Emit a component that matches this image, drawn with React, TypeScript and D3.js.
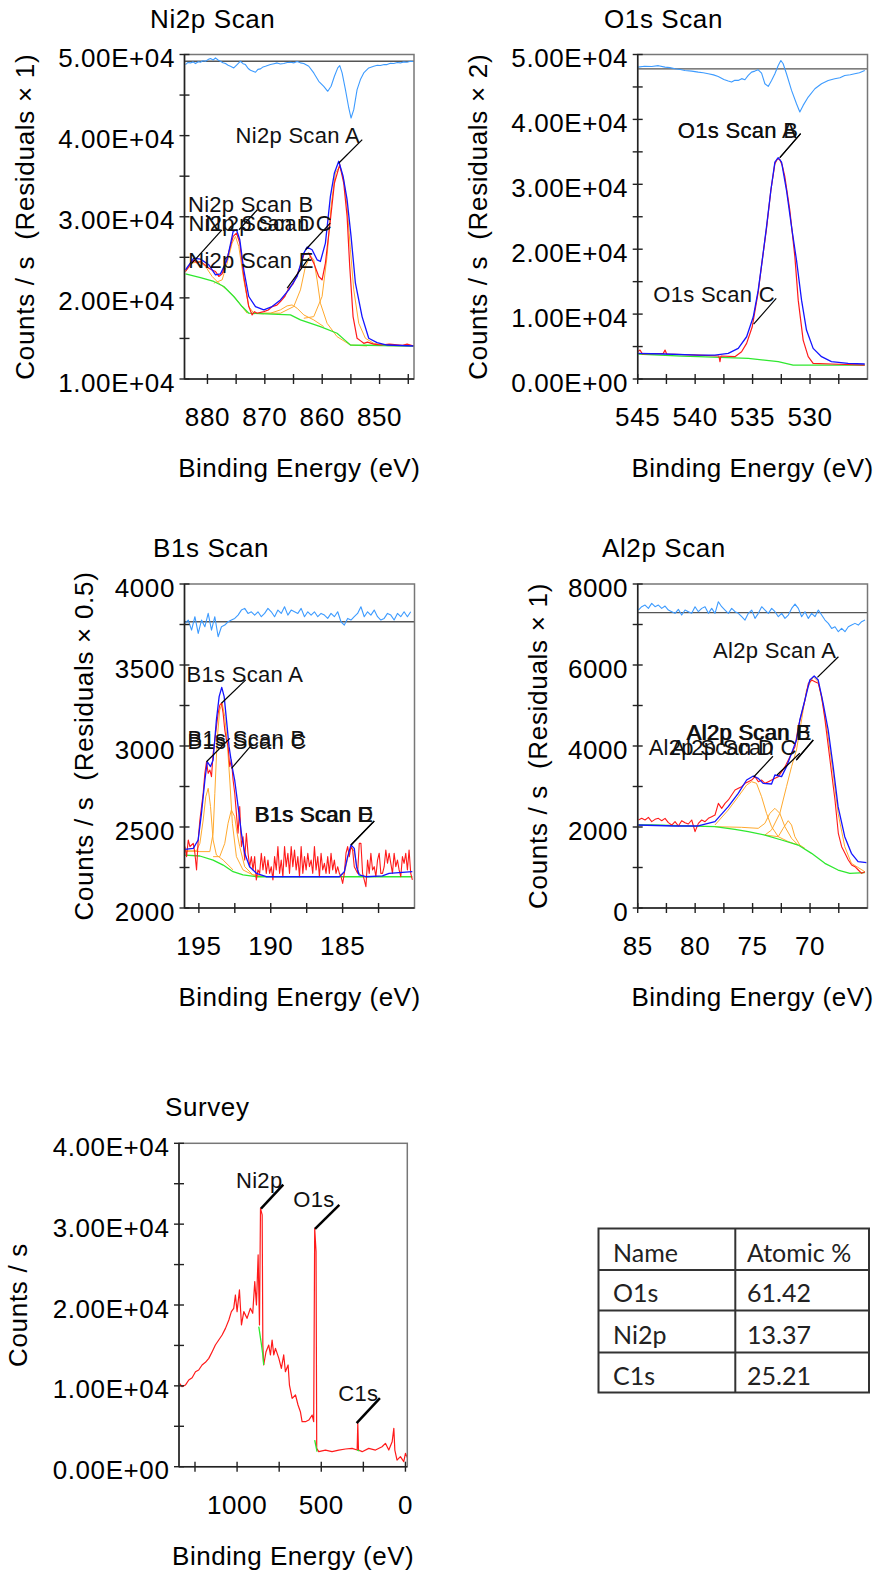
import React from 'react';
import * as d3 from 'd3';

type Pt = [number, number];

// ---------- Ni2p Scan (binding energy eV, counts/s) ----------
const ni2pEnvelope: Pt[] = [[883.83,23460],[882.38,24900],[881.22,24780],[879.76,24080],[878.60,22840],[877.73,22960],[876.57,24690],[875.52,28190],[874.94,28400],[874.36,27160],[873.67,23460],[872.80,20170],[871.63,18930],[870.18,18520],[868.73,18930],[867.28,19750],[865.83,20990],[864.37,22640],[863.21,25520],[862.63,26260],[861.76,25930],[860.89,24690],[860.31,24490],[859.44,26750],[858.57,32520],[857.87,35400],[857.12,36840],[856.36,34990],[855.66,32100],[854.97,27580],[854.21,21810],[853.05,17690],[851.89,15020],[850.44,14480],[848.70,14190],[844.05,14070]];
const ni2pData: Pt[] = [[883.83,23250],[883.2,23900],[882.38,24690],[881.8,24300],[881.22,24490],[880.5,24100],[879.76,23660],[879.1,23400],[878.60,23250],[878.02,22640],[877.44,22960],[876.57,24900],[875.52,27580],[874.94,27990],[874.36,26750],[873.67,22640],[872.80,18930],[872.21,17900],[871.8,18300],[871.34,18110],[870.18,18310],[869.4,18500],[868.73,18930],[867.9,19100],[867.28,19550],[866.5,20200],[865.83,21190],[865.1,21700],[864.37,22840],[863.8,23900],[863.21,25310],[862.34,25520],[861.47,24280],[860.60,22640],[860.02,22220],[859.44,24280],[858.57,29630],[857.87,34160],[856.94,36430],[856.25,34160],[855.66,30050],[855.20,23870],[854.62,17690],[853.92,15020],[853.3,14700],[852.76,14400],[852.1,14550],[851.02,14300],[849.86,14190],[848.3,14300],[846.00,14150],[845.2,14300],[844.05,14070]];
const ni2pBackground: Pt[] = [[883.83,22960],[881.22,22510],[878.89,22020],[877.15,21400],[875.41,20170],[873.96,18930],[872.80,18110],[865.54,17900],[863.79,17280],[860.31,16460],[857.41,15640],[855.95,14730],[855.08,14190],[844.05,14070]];
const ni2pCompA: Pt[] = [[863.21,17490],[861.47,17690],[860.02,20170],[859.15,25110],[858.45,31280],[857.70,35400],[856.94,36220],[856.25,34570],[855.66,31280],[855.08,25930],[854.50,20990],[853.63,16870],[852.47,15020],[851.02,14400],[848.70,14110],[844.05,14070]];
const ni2pCompB: Pt[] = [[883.83,23250],[882.67,24280],[881.51,24490],[880.34,23870],[879.18,22640],[878.02,21810],[876.57,20990],[875.12,19960],[873.09,18110]];
const ni2pCompC: Pt[] = [[870.18,18110],[867.28,18110],[864.96,18930],[863.79,20990],[862.92,23870],[862.05,25190],[861.47,24690],[860.89,22220],[860.31,19340],[859.15,16870],[857.41,15220],[855.08,14190],[852.18,14070]];
const ni2pCompD: Pt[] = [[878.89,21810],[877.44,22220],[876.57,24280],[875.70,26750],[875.12,27580],[874.54,26340],[873.67,22220],[872.80,18930],[871.92,18110],[870.18,18030]];
const ni2pCompE: Pt[] = [[871.34,18110],[869.02,18110],[867.28,18520],[866.12,19010],[865.25,19130],[864.37,18720],[863.21,17900],[861.47,17280],[859.73,16460]];
const ni2pResidual: Pt[] = [[883.83,-412],[883.4,-150],[882.96,-206],[882.5,-80],[882.09,-288],[881.6,-60],[881.22,-124],[880.8,60],[880.34,0],[879.9,200],[879.47,329],[879.0,150],[878.60,412],[878.1,120],[877.73,0],[877.3,-180],[876.86,-288],[876.4,-500],[875.99,-618],[875.41,-823],[874.83,-412],[874.25,0],[873.8,-300],[873.38,-412],[872.9,-900],[872.50,-1112],[871.63,-1359],[871.2,-1000],[870.76,-947],[870.3,-700],[869.89,-618],[869.02,-412],[868.4,-300],[867.86,-206],[867.3,-350],[866.70,-288],[866.1,-150],[865.54,-124],[864.9,-200],[864.37,-41],[863.8,-200],[863.21,-288],[862.34,-618],[861.47,-1441],[860.60,-2470],[859.73,-3088],[859.03,-3705],[858.45,-3088],[857.87,-1853],[857.29,-824],[856.94,-535],[856.53,-1441],[855.95,-3500],[855.37,-5764],[854.97,-6999],[854.50,-5970],[853.92,-3500],[853.34,-2264],[852.76,-1441],[851.89,-823],[851.02,-618],[850.4,-500],[849.86,-535],[849.2,-400],[848.70,-412],[848.1,-250],[847.53,-288],[846.9,-150],[846.37,-206],[845.8,-80],[845.21,-124],[844.6,-10],[844.05,-41]];
const ni2pPeaks = [
  { label: 'Ni2p Scan A', at: [857.1, 36630] as Pt },
  { label: 'Ni2p Scan B', at: [882.7, 24280] as Pt },
  { label: 'Ni2p Scan D', at: [874.5, 28400] as Pt },
  { label: 'Ni2p Scan C', at: [862.9, 25930] as Pt },
  { label: 'Ni2p Scan E', at: [866.1, 21200] as Pt },
];

// ---------- O1s Scan ----------
const o1sEnvelope: Pt[] = [[545.00,3950],[542.62,3850],[539.73,3690],[538.28,3690],[537.12,3950],[536.25,4720],[535.52,6510],[534.94,9590],[534.51,13690],[534.16,18310],[533.79,23440],[533.41,29080],[533.06,33430],[532.77,34100],[532.48,33430],[532.05,29080],[531.61,23440],[531.18,18310],[530.74,12150],[530.31,7540],[529.73,4720],[529.00,3440],[528.14,2670],[526.69,2410],[525.24,2310]];
const o1sData: Pt[] = [[545.00,4200],[544.80,4460],[544.59,3850],[542.77,3950],[542.62,4460],[542.48,3850],[539.73,3690],[537.93,3540],[537.84,2670],[537.76,3540],[536.54,3440],[535.96,4200],[535.52,5490],[535.03,8050],[534.51,13440],[534.16,18310],[533.79,23180],[533.41,29080],[533.06,33180],[532.83,33950],[532.63,33790],[532.42,32920],[532.19,31130],[531.76,26000],[531.32,18820],[531.03,12150],[530.60,6000],[530.16,3440],[529.73,2410],[528.14,2310],[525.24,2150]];
const o1sBackground: Pt[] = [[545.00,3850],[541.17,3540],[539.73,3440],[535.38,3180],[532.77,2670],[531.47,2150],[525.24,2150]];
const o1sResidual: Pt[] = [[545.00,128],[544.4,200],[543.78,179],[543.2,240],[542.62,128],[542.2,90],[541.75,0],[541.3,-60],[540.89,-128],[540.3,-180],[539.73,-256],[539.3,-300],[538.86,-385],[538.4,-470],[537.99,-590],[537.5,-820],[537.12,-949],[536.83,-1026],[536.55,-880],[536.25,-897],[535.95,-760],[535.67,-846],[535.38,-513],[535.09,-256],[534.80,-179],[534.51,-77],[534.22,-333],[533.93,-1154],[533.64,-1359],[533.35,-897],[533.06,-385],[532.77,256],[532.54,641],[532.34,385],[532.05,-385],[531.61,-1667],[531.18,-2692],[530.89,-3333],[530.60,-2820],[530.16,-2179],[529.58,-1538],[529.00,-1154],[528.42,-897],[527.85,-769],[527.4,-690],[526.98,-513],[526.5,-460],[526.11,-385],[525.7,-300],[525.24,-128]];
const o1sPeaks = [
  { label: 'O1s Scan A', at: [532.63, 34110] as Pt },
  { label: 'O1s Scan B', at: [532.63, 34110] as Pt },
  { label: 'O1s Scan C', at: [534.91, 8460] as Pt },
];

// ---------- B1s Scan ----------
const b1sEnvelope: Pt[] = [[195.97,2362],[195.39,2368],[195.05,2420],[194.82,2584],[194.58,2790],[194.42,2903],[194.19,2873],[194.01,2914],[193.78,3161],[193.59,3305],[193.41,3362],[193.24,3305],[193.08,3161],[192.90,2996],[192.69,2873],[192.51,2790],[192.27,2626],[192.04,2461],[191.81,2338],[191.47,2255],[191.00,2214],[190.31,2193],[185.23,2193],[184.88,2224],[184.65,2317],[184.42,2389],[184.19,2368],[184.03,2255],[183.85,2204],[183.38,2193],[182.23,2198],[181.77,2214],[180.15,2224]];
const b1sStart = 195.97;
const b1sStep = 0.1155;
const b1sCounts = [
  2379,2317,2420,2379,2389,2399,2338,2235,2420,2543,
  2626,2708,2831,2903,2831,2852,2811,2955,3037,3120,
  3202,3253,3264,3202,3099,3037,2996,2873,2914,2790,
  2708,2584,2461,2626,2379,2440,2296,2461,2338,2255,
  2317,2235,2317,2173,2235,2214,2338,2235,2317,2214,
  2296,2214,2255,2173,2317,2235,2379,2214,2296,2193,
  2379,2255,2338,2214,2379,2255,2358,2235,2317,2193,
  2379,2214,2317,2235,2338,2255,2296,2214,2379,2235,
  2317,2193,2338,2235,2276,2214,2317,2214,2338,2235,
  2296,2214,2255,2214,2193,2152,2214,2338,2379,2317,
  2379,2358,2255,2235,2214,2399,2399,2214,2173,2132,
  2296,2214,2338,2235,2255,2193,2296,2338,2214,2214,
  2255,2358,2276,2338,2276,2214,2338,2255,2296,2235,
  2193,2317,2276,2338,2235,2358,2214,2173,
];
const b1sBackground: Pt[] = [[195.97,2327],[194.93,2321],[194.01,2296],[193.31,2265],[192.62,2224],[191.93,2204],[191.00,2193],[180.15,2193]];
const b1sCompA: Pt[] = [[195.97,2354],[194.93,2348],[194.24,2348],[194.01,2461],[193.89,2708],[193.73,3037],[193.55,3222],[193.38,3264],[193.20,3181],[193.04,3037],[192.85,2790],[192.67,2523],[192.39,2317],[191.93,2235],[191.24,2204],[190.31,2193]];
const b1sCompB: Pt[] = [[195.97,2348],[195.16,2354],[194.93,2399],[194.70,2543],[194.52,2687],[194.35,2739],[194.19,2626],[194.01,2420],[193.78,2327],[193.31,2296],[192.62,2235]];
const b1sCompC: Pt[] = [[194.01,2317],[193.55,2317],[193.20,2399],[192.97,2523],[192.74,2605],[192.51,2564],[192.34,2461],[192.16,2379],[191.81,2255],[191.24,2204],[190.31,2193]];
const b1sCompD: Pt[] = [[185.23,2193],[184.88,2214],[184.65,2307],[184.42,2379],[184.19,2348],[183.96,2235],[183.73,2198]];
const b1sResidStep = 0.231;
const b1sResidual = [-21,21,-103,62,-144,21,-62,103,-103,62,-185,-62,-41,0,21,41,82,144,165,103,123,82,123,62,103,165,123,62,144,103,185,82,144,123,103,165,62,123,82,123,62,103,82,41,103,62,123,0,-41,41,21,62,103,185,62,123,82,144,62,21,41,103,82,21,103,62,123,62,123];
const b1sPeaks = [
  { label: 'B1s Scan A', at: [193.43, 3264] as Pt },
  { label: 'B1s Scan B', at: [194.47, 2903] as Pt },
  { label: 'B1s Scan C', at: [192.73, 2862] as Pt },
  { label: 'B1s Scan D', at: [184.42, 2389] as Pt },
  { label: 'B1s Scan E', at: [184.42, 2389] as Pt },
];

// ---------- Al2p Scan ----------
const al2pEnvelope: Pt[] = [[85.00,2049],[81.75,2025],[79.73,2025],[78.28,2132],[77.12,2502],[76.25,2831],[75.52,3160],[74.94,3259],[74.51,3201],[74.08,3078],[73.35,3062],[73.06,3284],[72.48,3243],[72.05,3490],[71.61,3819],[71.18,4148],[70.89,4642],[70.45,5136],[70.02,5629],[69.64,5728],[69.29,5629],[68.86,5053],[68.42,4395],[67.99,3490],[67.56,2502],[66.98,1761],[66.40,1350],[65.82,1144],[65.09,1119]];
const al2pStart = 84.94;
const al2pStep = 0.29;
const al2pCounts = [
  2173,2214,2173,2239,2132,2189,2214,2156,2214,2107,
  2049,2132,2025,2156,2107,2074,2173,1885,2090,2173,
  2132,2214,2255,2296,2584,2461,2584,2667,2790,2913,
  2955,2996,3078,3119,3160,3243,3119,3160,3078,3119,
  3160,3201,3243,3366,3490,3654,3819,3983,4477,4806,
  5136,5547,5629,5588,5547,5218,4642,3983,3325,2667,
  1844,1514,1350,1185,1062,1021,938,856,897,
];
const al2pBackground: Pt[] = [[85.00,2049],[83.78,2049],[78.28,2008],[76.54,1942],[75.38,1885],[73.93,1802],[72.48,1679],[71.03,1555],[69.87,1350],[68.71,1103],[67.56,938],[66.54,856],[65.24,872]];
const al2pCompA: Pt[] = [[73.93,1802],[73.35,1926],[72.63,2337],[72.05,2996],[71.61,3490],[71.18,3901],[70.74,4642],[70.31,5382],[69.73,5712],[69.29,5588],[68.86,4971],[68.42,4230],[67.99,3325],[67.56,2337],[66.98,1514],[66.40,1103],[65.24,897]];
const al2pCompB: Pt[] = [[78.28,2049],[77.12,2420],[76.25,2749],[75.52,3037],[75.09,3119],[74.66,3078],[74.22,2749],[73.79,2337],[73.35,2008],[72.77,1761],[71.90,1640],[71.03,1555]];
const al2pCompC: Pt[] = [[78.28,2008],[75.96,1992],[74.51,1967],[73.93,2090],[73.50,2337],[73.06,2461],[72.63,2337],[72.19,2008],[71.61,1720],[71.03,1555]];
const al2pCompD: Pt[] = [[73.93,1802],[72.77,1761],[72.34,1967],[71.90,2156],[71.61,2049],[71.32,1761],[70.89,1555],[70.45,1473]];
const al2pResidual = [66,148,189,107,230,148,189,107,165,66,25,-16,82,-58,66,25,-16,148,25,107,148,-16,107,-16,272,148,66,-16,107,25,-16,-99,-181,-16,66,-140,-16,148,66,-16,107,25,-99,-16,-140,-58,107,214,107,-99,25,-140,-16,-99,66,-58,-181,-263,-387,-346,-469,-387,-469,-346,-305,-263,-305,-222,-181];
const al2pPeaks = [
  { label: 'Al2p Scan A', at: [69.36, 5696] as Pt },
  { label: 'Al2p Scan D', at: [74.91, 3235] as Pt },
  { label: 'Al2p Scan C', at: [72.87, 3284] as Pt },
  { label: 'Al2p Scan B', at: [71.2, 3654] as Pt },
  { label: 'Al2p Scan E', at: [71.2, 3654] as Pt },
];

// ---------- Survey ----------
const surveyData: Pt[] = [[1342,10310],[1327,9900],[1307,10100],[1287,10720],[1267,11010],[1247,11750],[1228,11960],[1208,12580],[1188,12910],[1168,13400],[1148,14230],[1129,15050],[1109,15670],[1089,16290],[1069,17110],[1049,18150],[1034,19180],[1020,19590],[1010,21240],[1000,19180],[986,21860],[974,17530],[960,19180],[941,18350],[921,19590],[907,18970],[895,22890],[885,20000],[875,26190],[867,17530],[861,31960],[851,31140],[847,15050],[842,12580],[828,14230],[812,15050],[802,13820],[792,15670],[782,13820],[772,14640],[752,13400],[737,12170],[723,13820],[713,11750],[697,12580],[689,10100],[673,8450],[653,8870],[638,7630],[624,6800],[614,5570],[594,5570],[574,5770],[554,6390],[545,5570],[539,29490],[531,26600],[527,2270],[515,1860],[475,2060],[436,1860],[396,2060],[356,2190],[317,2270],[287,2060],[283,5360],[279,2060],[257,1860],[218,2270],[178,2060],[139,2470],[119,2890],[99,2060],[79,3090],[69,4740],[63,2060],[50,820],[30,1240],[10,620],[0,1650],[-14,1030]];
const surveyBgNi: Pt[] = [[871,17320],[855,15050],[847,13820],[842,12580]];
const surveyBgO: Pt[] = [[539,3300],[525,1860]];
const surveyBgC: Pt[] = [[287,2060],[273,1940]];
const surveyPeaks = [
  { label: 'Ni2p', at: [858, 31910] as Pt },
  { label: 'O1s', at: [537, 29420] as Pt },
  { label: 'C1s', at: [290, 5400] as Pt },
];

// ---------- quantification table ----------
const tableNames = ['O1s', 'Ni2p', 'C1s'];
const tableAtomic = ['61.42', '13.37', '25.21'];

// ---------- styles / layout ----------
const FONT = '"Liberation Sans", Arial, sans-serif';
const BLUE = '#1414ff';
const RED = '#ff1a1a';
const ORANGE = '#ffa92e';
const GREEN = '#2fe82f';
const RESID = '#3d9bff';

const onGrid = (start: number, step: number, vals: number[]): Pt[] =>
  vals.map((v, i) => [start - i * step, v] as Pt);

const sci = (v: number) => {
  if (v === 0) return '0.00E+00';
  const e = Math.floor(Math.log10(Math.abs(v)));
  return `${(v / Math.pow(10, e)).toFixed(2)}E+${String(e).padStart(2, '0')}`;
};

type Series = { pts: Pt[]; color: string; w: number };
type Peak = { label: string; at: Pt };
type NoteLayout = [number, number, number, number];

interface PanelProps {
  id: string;
  box: [number, number, number, number];
  xDomain: [number, number];
  yDomain: [number, number];
  xTicks: number[];
  xLabels: number[];
  yTicks: number[];
  yLabels: number[];
  fmt: (v: number) => string;
  title: string;
  titlePos: [number, number];
  yTitle: string;
  yTitleX: number;
  series: Series[];
  resid?: { base: number; scale: number; pts: Pt[] };
  peaks: Peak[];
  layout: NoteLayout[];
  leadW?: number;
}

function Panel(p: PanelProps) {
  const [x0, y0, x1, y1] = p.box;
  const x = d3.scaleLinear().domain(p.xDomain).range([x0, x1]);
  const y = d3.scaleLinear().domain(p.yDomain).range([y1, y0]);
  const line = d3.line<Pt>().x(d => x(d[0])).y(d => y(d[1]));
  const clip = `clip-${p.id}`;
  const residPts = p.resid
    ? p.resid.pts.map(d => [d[0], p.resid!.base + d[1] * p.resid!.scale] as Pt)
    : null;
  return (
    <g>
      <defs>
        <clipPath id={clip}>
          <rect x={x0} y={y0} width={x1 - x0} height={y1 - y0} />
        </clipPath>
      </defs>
      <text x={p.titlePos[0]} y={p.titlePos[1]} fontSize={26} letterSpacing={0.6}>{p.title}</text>
      <g clipPath={`url(#${clip})`} fill="none" strokeLinejoin="round">
        {p.series.map((s, i) => (
          <path key={i} d={line(s.pts) || ''} stroke={s.color} strokeWidth={s.w} />
        ))}
        {p.resid && (
          <g>
            <line x1={x0} x2={x1} y1={y(p.resid.base)} y2={y(p.resid.base)} stroke="#555" strokeWidth={1.3} />
            <path d={line(residPts!) || ''} stroke={RESID} strokeWidth={1.1} />
          </g>
        )}
      </g>
      <rect x={x0} y={y0} width={x1 - x0} height={y1 - y0} fill="none" stroke="#777" strokeWidth={1.5} />
      <line x1={x0} x2={x0} y1={y0} y2={y1} stroke="#222" strokeWidth={1.5} />
      <line x1={x0} x2={x1} y1={y1} y2={y1} stroke="#222" strokeWidth={1.5} />
      {p.xTicks.map(t => (
        <line key={`xt${t}`} x1={x(t)} x2={x(t)} y1={y1 - 5} y2={y1 + 5} stroke="#222" strokeWidth={1.4} />
      ))}
      {p.yTicks.map(t => (
        <line key={`yt${t}`} x1={x0 - 5} x2={x0 + 5} y1={y(t)} y2={y(t)} stroke="#222" strokeWidth={1.4} />
      ))}
      {p.xLabels.map(t => (
        <text key={`xl${t}`} x={x(t)} y={y1 + 47} fontSize={26} letterSpacing={0.6} textAnchor="middle">{t}</text>
      ))}
      {p.yLabels.map(t => (
        <text key={`yl${t}`} x={x0 - 9.5} y={y(t) + 12.5} fontSize={26} letterSpacing={0.6} textAnchor="end">{p.fmt(t)}</text>
      ))}
      <text x={(x0 + x1) / 2} y={y1 + 98} fontSize={26} letterSpacing={0.5} textAnchor="middle">
        Binding Energy (eV)
      </text>
      <text transform={`translate(${p.yTitleX},${(y0 + y1) / 2}) rotate(-90)`} fontSize={26} letterSpacing={0.7}
        textAnchor="middle" xmlSpace="preserve">{p.yTitle}</text>
      {p.peaks.map((pk, i) => {
        const ax = x(pk.at[0]);
        const ay = y(pk.at[1]);
        const [ldx, ldy, tdx, tdy] = p.layout[i];
        return (
          <g key={`n${i}`}>
            <line x1={ax} y1={ay} x2={ax + ldx} y2={ay + ldy} stroke="#000" strokeWidth={p.leadW || 1.2} />
            <text x={ax + tdx} y={ay + tdy} fontSize={22} letterSpacing={0.3} fill="#111">{pk.label}</text>
          </g>
        );
      })}
    </g>
  );
}

const ticks = (a: number, b: number, s: number) => d3.range(a, b + s / 2, s);

export default function App() {
  return (
    <svg width={877} height={1573} style={{ position: 'absolute', left: 0, top: 0, background: '#fff' }}
      fontFamily={FONT}>
      <rect width={877} height={1573} fill="#fff" />
      <Panel id="ni2p" box={[184.5, 54.5, 414, 379]} xDomain={[884, 844]} yDomain={[10000, 50000]}
        xTicks={ticks(845, 880, 5)} xLabels={[880, 870, 860, 850]}
        yTicks={ticks(10000, 50000, 5000)} yLabels={[10000, 20000, 30000, 40000, 50000]} fmt={sci}
        title="Ni2p Scan" titlePos={[150, 28]} yTitle="Counts / s  (Residuals × 1)" yTitleX={33.5}
        series={[
          { pts: ni2pCompB, color: ORANGE, w: 1 },
          { pts: ni2pCompD, color: ORANGE, w: 1 },
          { pts: ni2pCompE, color: ORANGE, w: 1 },
          { pts: ni2pCompC, color: ORANGE, w: 1 },
          { pts: ni2pCompA, color: ORANGE, w: 1 },
          { pts: ni2pBackground, color: GREEN, w: 1.3 },
          { pts: ni2pData, color: RED, w: 1.2 },
          { pts: ni2pEnvelope, color: BLUE, w: 1.3 },
        ]}
        resid={{ base: 49170, scale: 1, pts: ni2pResidual }}
        peaks={ni2pPeaks}
        layout={[[23.4, -23.3, -103.3, -20.3], [30, -33.3, -4, -51.6], [18.4, -20, -50.6, 1], [24.7, -26.7, -100.3, -19], [21.6, -30, -99, -20.6]]}
      />
      <Panel id="o1s" box={[637.7, 54.5, 867.5, 379]} xDomain={[545, 525]} yDomain={[0, 50000]}
        xTicks={ticks(527.5, 545, 2.5)} xLabels={[545, 540, 535, 530]}
        yTicks={ticks(0, 50000, 5000)} yLabels={[0, 10000, 20000, 30000, 40000, 50000]} fmt={sci}
        title="O1s Scan" titlePos={[604, 28]} yTitle="Counts / s  (Residuals × 2)" yTitleX={486.7}
        series={[
          { pts: o1sBackground, color: GREEN, w: 1.3 },
          { pts: o1sData, color: RED, w: 1.2 },
          { pts: o1sEnvelope, color: BLUE, w: 1.3 },
        ]}
        resid={{ base: 47800, scale: 2, pts: o1sResidual }}
        peaks={o1sPeaks}
        layout={[[20.8, -24, -102, -19.6], [20.8, -24, -102, -19.6], [22.6, -25.7, -100.4, -22.3]]}
      />
      <Panel id="b1s" box={[184.5, 584, 414.5, 908]} xDomain={[196, 180]} yDomain={[2000, 4000]}
        xTicks={ticks(182.5, 195, 2.5)} xLabels={[195, 190, 185]}
        yTicks={ticks(2000, 4000, 250)} yLabels={[2000, 2500, 3000, 3500, 4000]} fmt={v => String(v)}
        title="B1s Scan" titlePos={[153, 557]} yTitle="Counts / s  (Residuals × 0.5)" yTitleX={93.3}
        series={[
          { pts: b1sCompA, color: ORANGE, w: 1 },
          { pts: b1sCompB, color: ORANGE, w: 1 },
          { pts: b1sCompC, color: ORANGE, w: 1 },
          { pts: b1sCompD, color: ORANGE, w: 1 },
          { pts: b1sBackground, color: GREEN, w: 1.3 },
          { pts: onGrid(b1sStart, b1sStep, b1sCounts), color: RED, w: 1.1 },
          { pts: b1sEnvelope, color: BLUE, w: 1.3 },
        ]}
        resid={{ base: 3767, scale: 0.5, pts: onGrid(b1sStart, b1sResidStep, b1sResidual) }}
        peaks={b1sPeaks}
        layout={[[24.3, -23.3, -35, -21.6], [23.3, -23.4, -19, -16], [20, -23.3, -44, -19.6], [23.3, -24, -96.7, -23.3], [23.3, -24, -95.7, -23.3]]}
      />
      <Panel id="al2p" box={[637.7, 584, 867.5, 908]} xDomain={[85, 65]} yDomain={[0, 8000]}
        xTicks={ticks(67.5, 85, 2.5)} xLabels={[85, 80, 75, 70]}
        yTicks={ticks(0, 8000, 1000)} yLabels={[0, 2000, 4000, 6000, 8000]} fmt={v => String(v)}
        title="Al2p Scan" titlePos={[602, 557]} yTitle="Counts / s  (Residuals × 1)" yTitleX={546.7}
        series={[
          { pts: al2pCompB, color: ORANGE, w: 1 },
          { pts: al2pCompC, color: ORANGE, w: 1 },
          { pts: al2pCompD, color: ORANGE, w: 1 },
          { pts: al2pCompA, color: ORANGE, w: 1 },
          { pts: al2pBackground, color: GREEN, w: 1.3 },
          { pts: onGrid(al2pStart, al2pStep, al2pCounts), color: RED, w: 1.1 },
          { pts: al2pEnvelope, color: BLUE, w: 1.3 },
        ]}
        resid={{ base: 7291, scale: 1, pts: onGrid(al2pStart, al2pStep, al2pResidual) }}
        peaks={al2pPeaks}
        layout={[[21, -20.6, -104.3, -19], [19.3, -20.7, -105, -21.7], [22.7, -21.7, -106, -20], [17, -20, -110, -20], [17, -20, -109, -20]]}
      />
      <Panel id="survey" box={[179, 1143.3, 407.3, 1466.7]} xDomain={[1345, -11]} yDomain={[0, 40000]}
        xTicks={ticks(0, 1250, 250)} xLabels={[1000, 500, 0]}
        yTicks={ticks(0, 40000, 5000)} yLabels={[0, 10000, 20000, 30000, 40000]} fmt={sci}
        title="Survey" titlePos={[165, 1116]} yTitle="Counts / s" yTitleX={27}
        series={[
          { pts: surveyData, color: RED, w: 1.2 },
          { pts: surveyBgNi, color: GREEN, w: 1.3 },
          { pts: surveyBgO, color: GREEN, w: 1.3 },
          { pts: surveyBgC, color: GREEN, w: 1.3 },
        ]}
        peaks={surveyPeaks}
        layout={[[22.3, -24, -25, -20.7], [24.3, -24, -21.7, -21.4], [23.3, -25, -18.4, -21.7]]}
        leadW={2.5}
      />
      <g fontFamily="Lato, 'Open Sans', sans-serif" fontSize={25} fill="#222">
        <rect x={598.5} y={1228.5} width={270.5} height={164} fill="none" stroke="#333" strokeWidth={2} />
        <line x1={735.3} x2={735.3} y1={1228.5} y2={1392.5} stroke="#333" strokeWidth={2} />
        {[1270, 1310.5, 1352.5].map(ry => (
          <line key={ry} x1={598.5} x2={869} y1={ry} y2={ry} stroke="#333" strokeWidth={2} />
        ))}
        <text x={613} y={1262}>Name</text>
        <text x={747} y={1262}>Atomic %</text>
        {tableNames.map((n, i) => (
          <g key={n}>
            <text x={613} y={1302 + i * 41.5}>{n}</text>
            <text x={747} y={1302 + i * 41.5}>{tableAtomic[i]}</text>
          </g>
        ))}
      </g>
    </svg>
  );
}
